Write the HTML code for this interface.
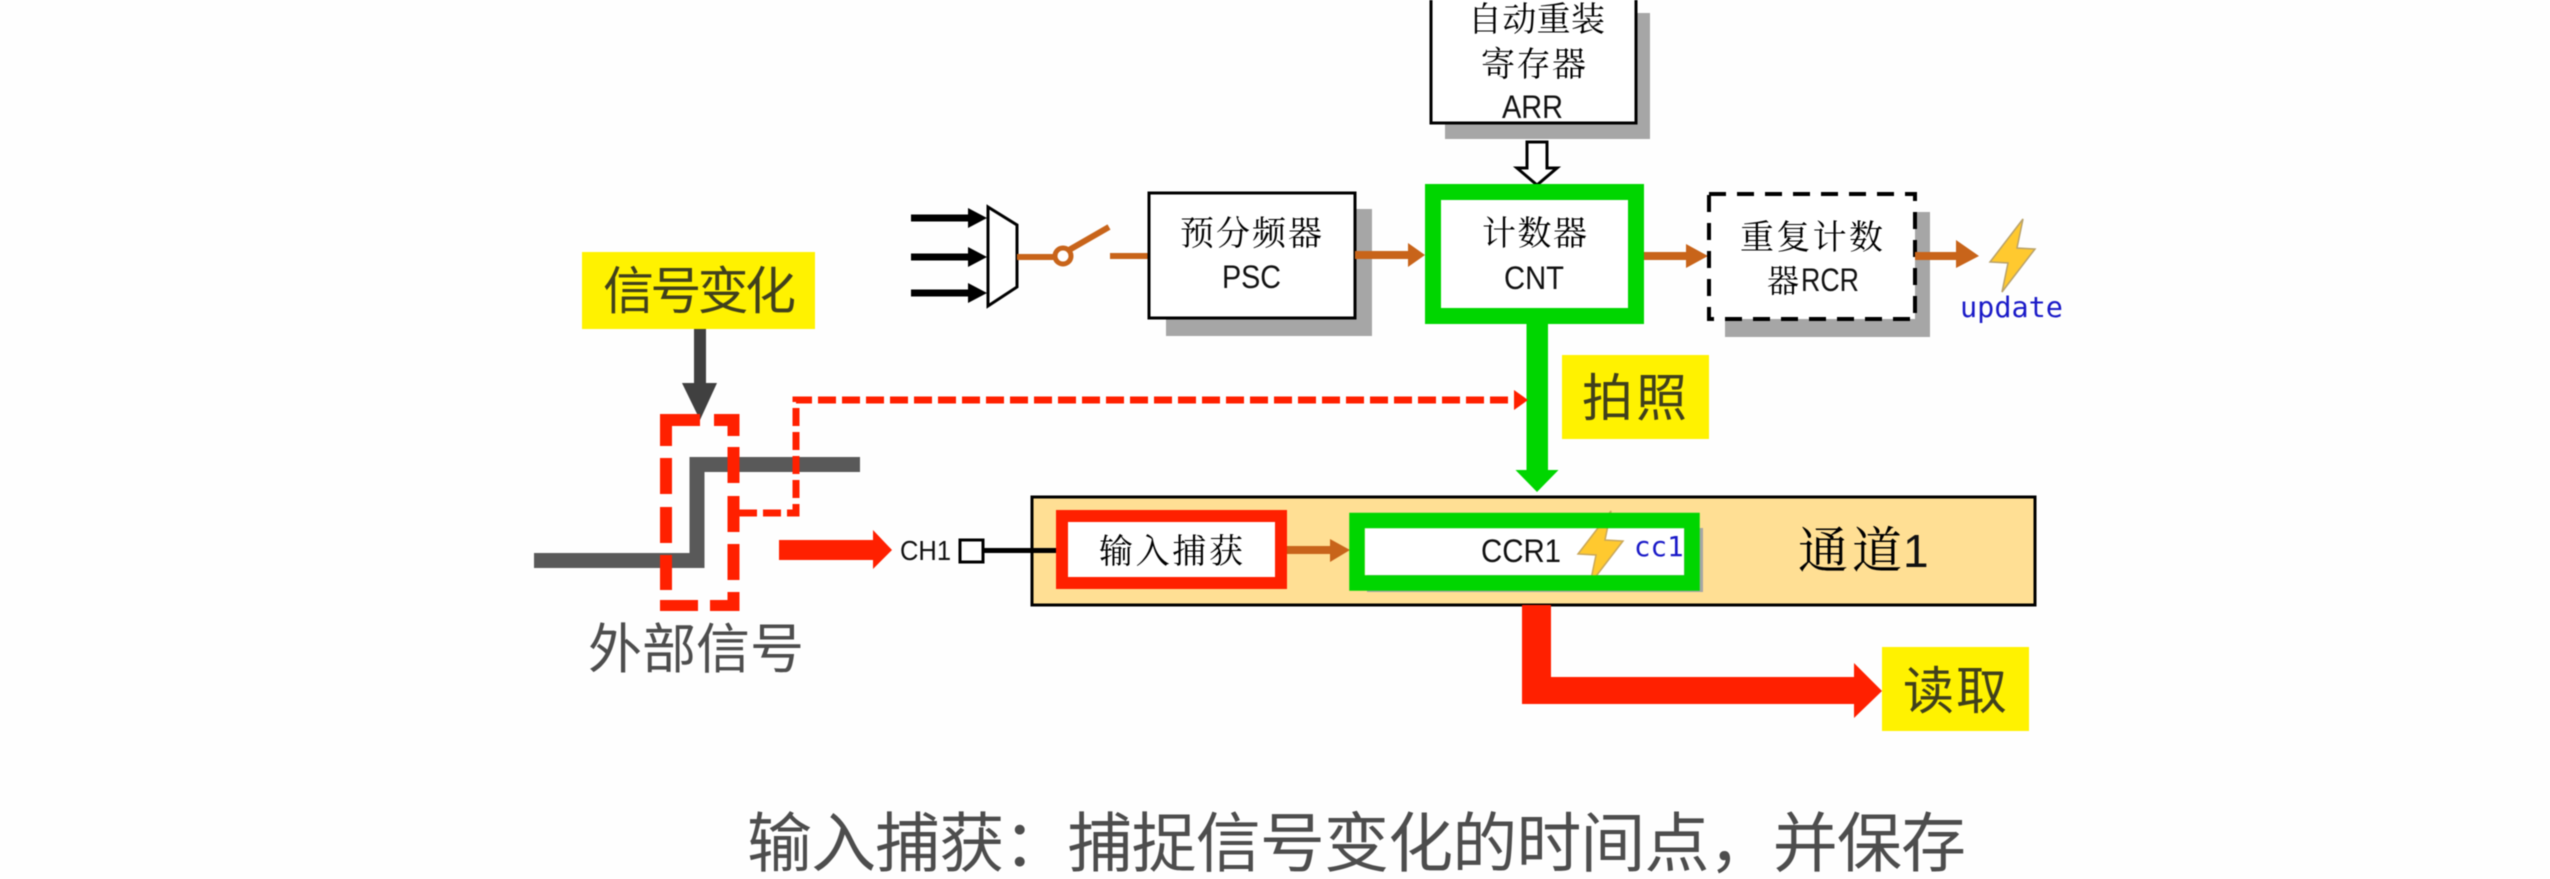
<!DOCTYPE html>
<html lang="zh">
<head>
<meta charset="utf-8">
<title>输入捕获</title>
<style>
html,body{margin:0;padding:0;background:#fefefe;width:2550px;height:879px;overflow:hidden}
svg{display:block;filter:blur(0.5px)}
.k{font-family:"Liberation Serif","Noto Serif CJK SC",serif;fill:#000}
.s{font-family:"Liberation Sans","Noto Sans CJK SC",sans-serif;fill:#111}
.y{font-family:"Liberation Sans","Noto Sans CJK SC",sans-serif;fill:#40401c;font-size:51px}
.g{font-family:"Liberation Sans","Noto Sans CJK SC",sans-serif;fill:#4d4d4d;font-weight:400}
.m{font-family:"DejaVu Sans Mono","Liberation Mono",monospace;fill:#1a1ac8}
</style>
</head>
<body>
<svg width="2550" height="879" viewBox="0 0 2550 879" xmlns="http://www.w3.org/2000/svg">
<rect width="2550" height="879" fill="#fefefe"/>

<!-- ARR -->
<rect x="1445" y="13" width="205" height="126" fill="#a6a6a6"/>
<rect x="1431" y="-10" width="205" height="133" fill="#fff" stroke="#000" stroke-width="3"/>
<text class="k" x="1468" y="31" font-size="34" textLength="137">自动重装</text>
<text class="k" x="1481" y="76" font-size="34" textLength="105">寄存器</text>
<text class="s" x="1502" y="118" font-size="32" textLength="61" lengthAdjust="spacingAndGlyphs">ARR</text>
<path d="M1527 142H1547V168H1557L1537 185L1517 168H1527Z" fill="#fff" stroke="#000" stroke-width="3"/>

<!-- inputs and mux -->
<g fill="#000">
<path d="M911 214.500H968V208L987 218L968 228V221.500H911Z"/>
<path d="M911 253.500H968V247L987 257L968 267V260.500H911Z"/>
<path d="M911 289.500H968V283L987 293L968 303V296.500H911Z"/>
</g>
<path d="M988 207L1017 225V287L988 306Z" fill="#fff" stroke="#000" stroke-width="3"/>
<g stroke="#c8641a" fill="none">
<path d="M1017 257H1054" stroke-width="6"/>
<circle cx="1063" cy="256" r="8" stroke-width="5" fill="#fff"/>
<path d="M1069 250L1109 227" stroke-width="6"/>
<path d="M1110 256H1148" stroke-width="6"/>
</g>

<!-- PSC -->
<rect x="1166" y="209" width="206" height="127" fill="#a6a6a6"/>
<rect x="1149" y="193" width="206" height="125" fill="#fff" stroke="#000" stroke-width="3"/>
<text class="k" x="1180" y="245" font-size="34" textLength="142">预分频器</text>
<text class="s" x="1222" y="288" font-size="32" textLength="59" lengthAdjust="spacingAndGlyphs">PSC</text>
<path d="M1355 251H1408V243L1425 255L1408 267V259H1355Z" fill="#c8641a"/>

<!-- CNT -->
<rect x="1433" y="192" width="203" height="124" fill="#fff" stroke="#00d600" stroke-width="16"/>
<text class="k" x="1482" y="245" font-size="34" textLength="105">计数器</text>
<text class="s" x="1504" y="289" font-size="32" textLength="60" lengthAdjust="spacingAndGlyphs">CNT</text>
<path d="M1644 252H1686V244L1708 256L1686 268V260H1644Z" fill="#c8641a"/>

<!-- RCR -->
<rect x="1725" y="212" width="205" height="125" fill="#a6a6a6"/>
<rect x="1709" y="194" width="206" height="125" fill="#fff" stroke="#000" stroke-width="4" stroke-dasharray="17 11"/>
<text class="k" x="1740" y="249" font-size="34" textLength="143">重复计数</text>
<text class="k" x="1767" y="292" font-size="32">器</text>
<text class="s" x="1801" y="291" font-size="32" textLength="58" lengthAdjust="spacingAndGlyphs">RCR</text>
<path d="M1915 252H1956V240L1979 256L1956 268V260H1915Z" fill="#c8641a"/>
<path d="M2023 219L1990 262L2008 263L2002 292L2035 249L2017 248Z" fill="#ffc92f" stroke="#b9a26a" stroke-width="1.500"/>
<text class="m" x="1960" y="317" font-size="28.500">update</text>

<!-- green arrow -->
<path d="M1526.500 324H1548V470H1558.500L1537 492L1515.500 470H1526.500Z" fill="#00d600"/>

<!-- yellow labels -->
<rect x="582" y="252" width="233" height="77" fill="#fff200"/>
<text class="y" x="603" y="309" font-size="49" textLength="193">信号变化</text>
<rect x="1562" y="355" width="147" height="84" fill="#fff200"/>
<text class="y" x="1582" y="416" textLength="105">拍照</text>
<rect x="1882" y="647" width="147" height="84" fill="#fff200"/>
<text class="y" x="1903" y="709" textLength="104">读取</text>

<!-- signal -->
<path d="M534 560.500H697V464.500H860" fill="none" stroke="#595959" stroke-width="15"/>
<path d="M694 329H706V383H717L700 420L682 383H694Z" fill="#404040"/>

<!-- dashed marker -->
<g fill="#ff2000">
<rect x="660" y="414" width="40" height="12"/>
<rect x="714" y="414" width="25.500" height="12"/>
<rect x="660" y="414" width="12" height="32"/>
<rect x="660" y="458" width="12" height="36"/>
<rect x="660" y="507" width="12" height="36"/>
<rect x="660" y="555" width="12" height="35"/>
<rect x="727.500" y="414" width="12" height="22"/>
<rect x="727.500" y="447" width="12" height="36"/>
<rect x="727.500" y="496" width="12" height="36"/>
<rect x="727.500" y="544" width="12" height="36"/>
<rect x="727.500" y="592" width="12" height="19"/>
<rect x="660" y="600" width="38" height="11"/>
<rect x="710" y="600" width="29.500" height="11"/>
</g>
<path d="M739 513H796V400H1516" fill="none" stroke="#ff2000" stroke-width="7" stroke-dasharray="18 6"/>
<path d="M1514 390L1528 400L1514 410Z" fill="#ff2000"/>

<text class="g" x="588" y="668" font-size="54" textLength="216">外部信号</text>

<!-- CH1 -->
<path d="M779 540H873V530L892 550L873 569V560H779Z" fill="#ff2000"/>
<text class="s" x="900" y="560" font-size="28" textLength="51" lengthAdjust="spacingAndGlyphs">CH1</text>
<rect x="960" y="540" width="23" height="22" fill="#fff" stroke="#000" stroke-width="3"/>
<path d="M983 550.500H1056" stroke="#000" stroke-width="5"/>

<!-- panel -->
<rect x="1032" y="497" width="1003" height="108" fill="#ffdf94" stroke="#000" stroke-width="3"/>
<path d="M1030 550.500H1056" stroke="#000" stroke-width="5"/>
<rect x="1062" y="516" width="219" height="67" fill="#fff" stroke="#ff2000" stroke-width="12"/>
<text class="k" x="1099" y="563" font-size="34" textLength="144">输入捕获</text>
<path d="M1287 546H1330V539L1350 550L1330 562V554H1287Z" fill="#c8641a"/>

<!-- CCR1 -->
<rect x="1367" y="528" width="336" height="64" fill="#a6a6a6"/>
<rect x="1365" y="528" width="319" height="47" fill="#fff"/>
<text class="s" x="1481" y="562" font-size="32" textLength="80" lengthAdjust="spacingAndGlyphs">CCR1</text>
<path d="M1611 511L1578 554L1596 555L1590 584L1623 541L1605 540Z" fill="#ffc92f" stroke="#c9a85a" stroke-width="1.500"/>
<path d="M1357 520.500H1692V583H1357Z" fill="none" stroke="#00d600" stroke-width="15.500"/>
<text class="m" x="1634" y="556" font-size="27.500">cc1</text>

<text class="k" x="1798" y="568" font-size="50" textLength="104">通道</text>
<text class="s" x="1903" y="567" font-size="46">1</text>

<!-- read arrow -->
<path d="M1522 605H1551V677H1854V663L1882 691L1854 718V704H1522Z" fill="#ff2000"/>

<!-- caption -->
<text class="g" x="747" y="866" font-size="65" textLength="1219">输入捕获：捕捉信号变化的时间点，并保存</text>
</svg>
</body>
</html>
